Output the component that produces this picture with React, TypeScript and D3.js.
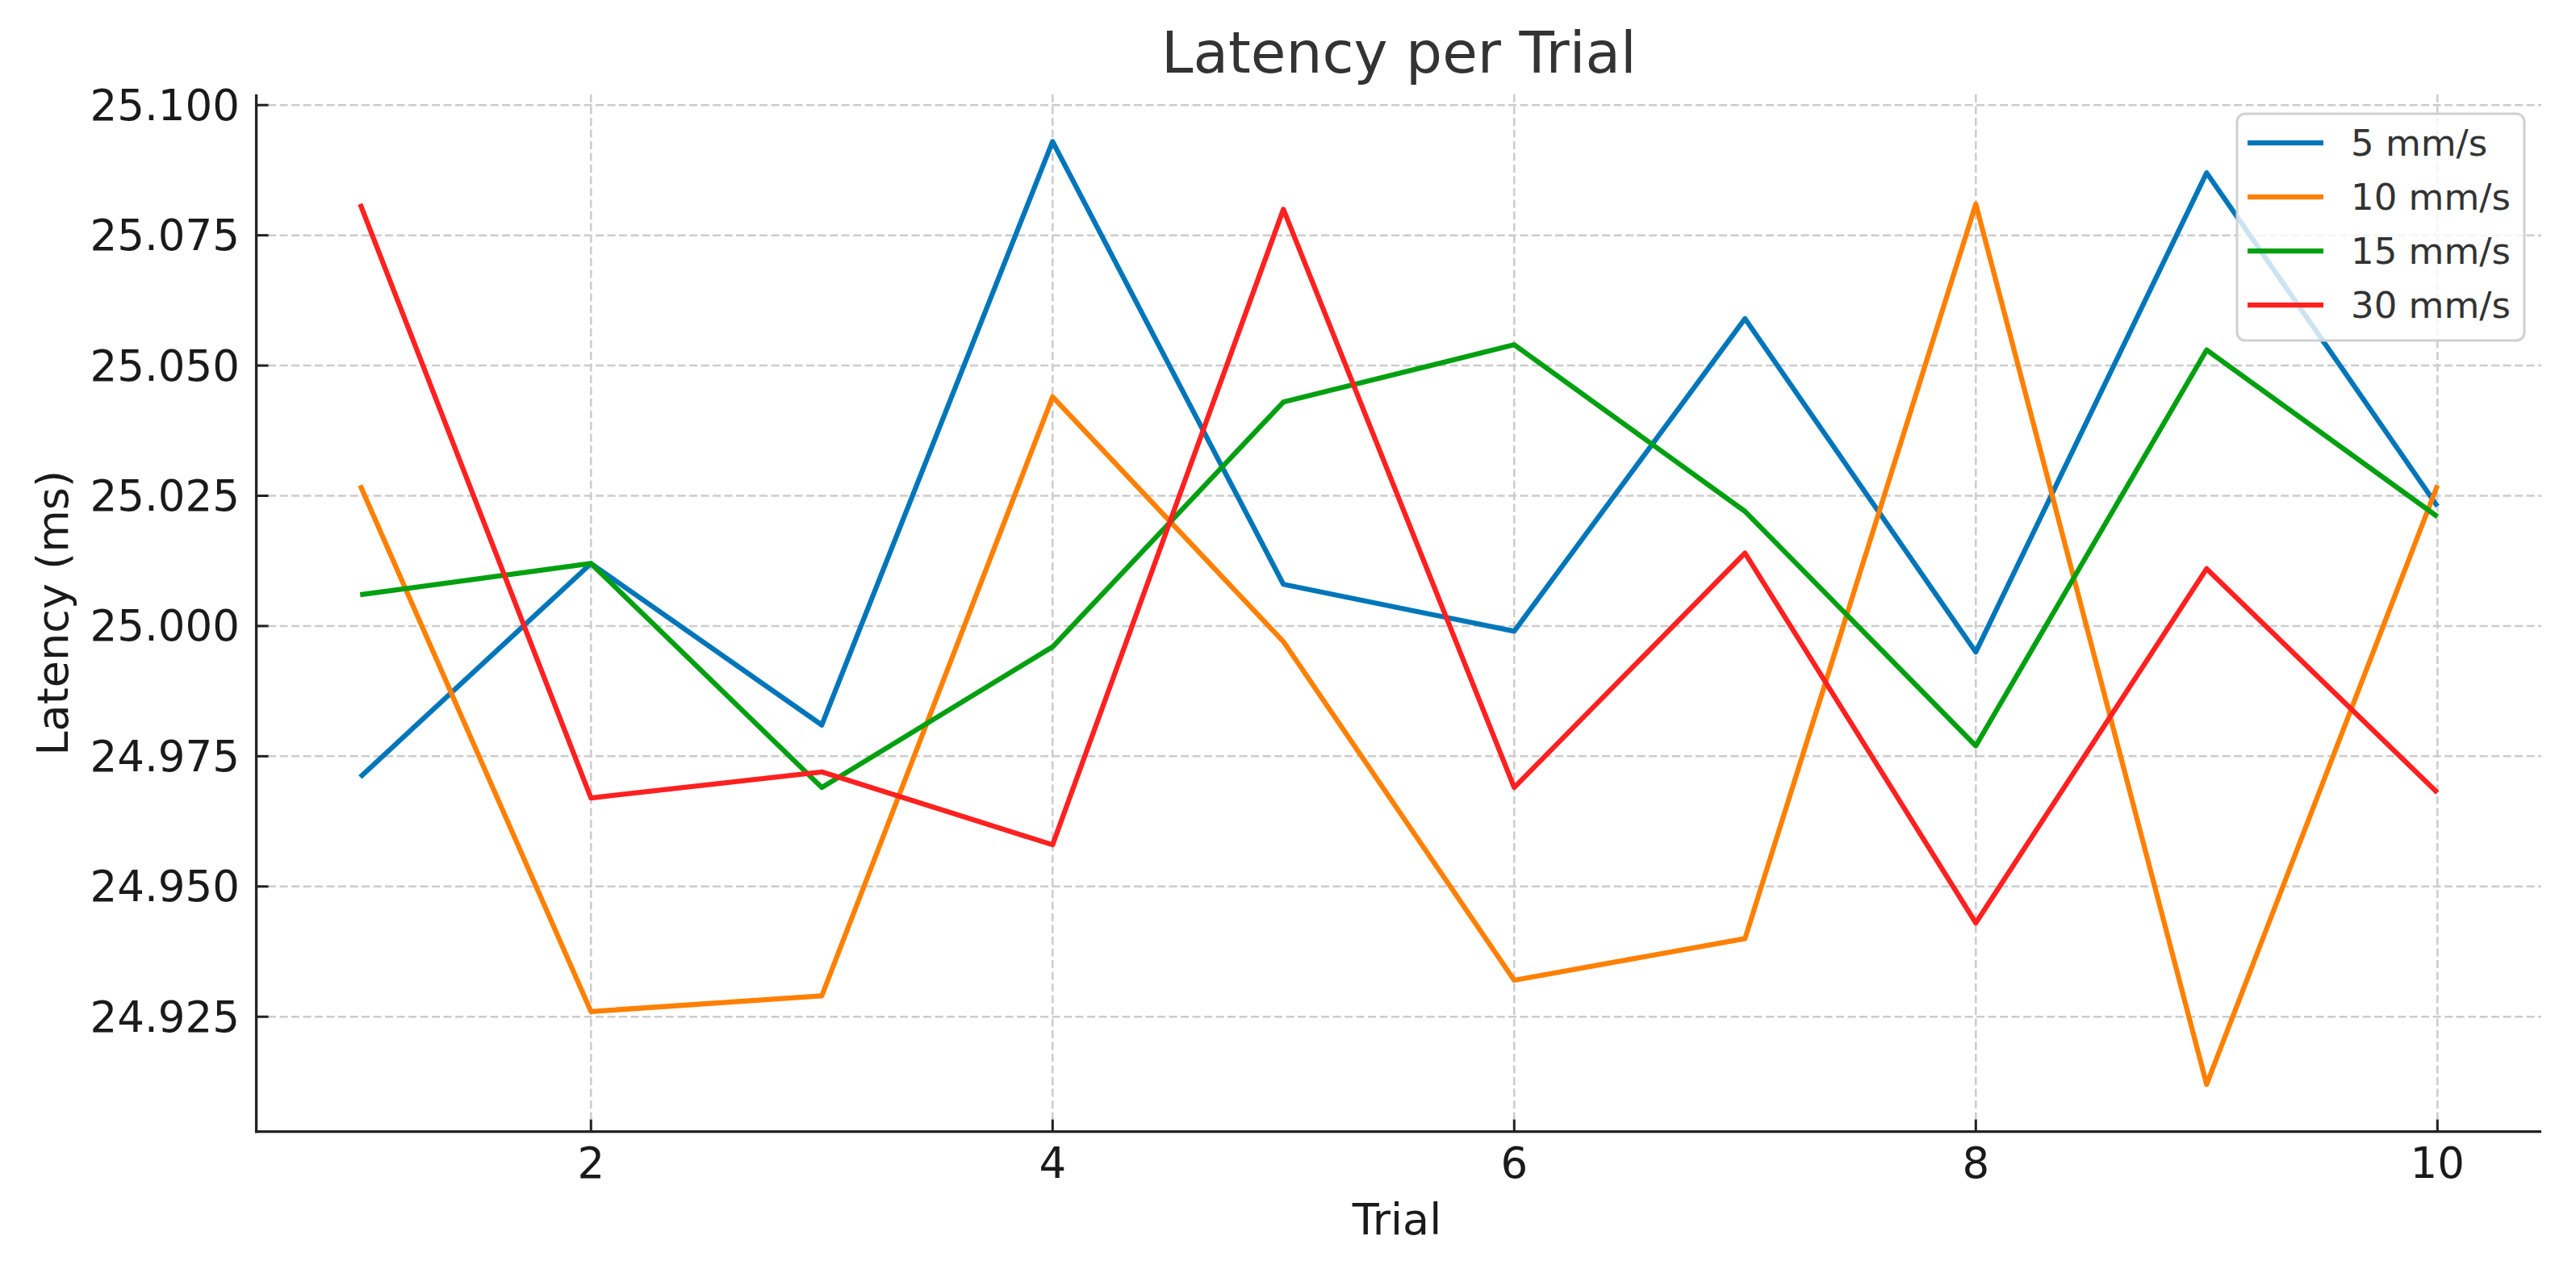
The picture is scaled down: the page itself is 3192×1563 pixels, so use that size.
import React from "react";
import * as d3 from "d3";

const trials = [1, 2, 3, 4, 5, 6, 7, 8, 9, 10];
const seriesNames = ["5 mm/s", "10 mm/s", "15 mm/s", "30 mm/s"];
const seriesColors = ["#0076BA", "#FF8000", "#00A010", "#FF2020"];
const v5 = [24.971, 25.012, 24.981, 25.093, 25.008, 24.999, 25.059, 24.995, 25.087, 25.023];
const v10 = [25.027, 24.926, 24.929, 25.044, 24.997, 24.932, 24.94, 25.081, 24.912, 25.027];
const v15 = [25.006, 25.012, 24.969, 24.996, 25.043, 25.054, 25.022, 24.977, 25.053, 25.021];
const v30 = [25.081, 24.967, 24.972, 24.958, 25.08, 24.969, 25.014, 24.943, 25.011, 24.968];
const yTicks = [24.925, 24.95, 24.975, 25.0, 25.025, 25.05, 25.075, 25.1];
const xTicks = [2, 4, 6, 8, 10];

const W = 3192;
const H = 1563;
const left = 317.6;
const right = 3149;
const top = 117;
const bottom = 1402.6;
const FONT = "'DejaVu Sans', sans-serif";

export default function App() {
  const allSeries = [v5, v10, v15, v30];
  const all = allSeries.flat();
  const yMin = d3.min(all) as number;
  const yMax = d3.max(all) as number;
  const ym = (yMax - yMin) * 0.05;
  const xMin = d3.min(trials) as number;
  const xMax = d3.max(trials) as number;
  const xm = (xMax - xMin) * 0.05;

  const x = d3.scaleLinear().domain([xMin - xm, xMax + xm]).range([left, right]);
  const y = d3.scaleLinear().domain([yMin - ym, yMax + ym]).range([bottom, top]);

  const line = d3
    .line<number>()
    .x((_, i) => x(trials[i]))
    .y((d) => y(d));

  const legX = 2772;
  const legY = 141;
  const legW = 356;
  const legH = 281;
  const rowY0 = 177;
  const rowDy = 67;

  return (
    <svg
      width={W}
      height={H}
      style={{ position: "absolute", left: 0, top: 0, background: "#fff" }}
      fontFamily={FONT}
    >
      <rect x={0} y={0} width={W} height={H} fill="#fff" />
      {/* grid */}
      {xTicks.map((t) => (
        <line
          key={"gx" + t}
          x1={x(t)}
          x2={x(t)}
          y1={top}
          y2={bottom}
          stroke="#cccccc"
          strokeWidth={2.5}
          strokeDasharray="10,4.5"
        />
      ))}
      {yTicks.map((t) => (
        <line
          key={"gy" + t}
          x1={left}
          x2={right}
          y1={y(t)}
          y2={y(t)}
          stroke="#cccccc"
          strokeWidth={2.5}
          strokeDasharray="10,4.5"
        />
      ))}
      {/* series */}
      {allSeries.map((s, i) => (
        <path
          key={"s" + i}
          d={line(s) as string}
          fill="none"
          stroke={seriesColors[i]}
          strokeWidth={6.25}
          strokeLinejoin="round"
          strokeLinecap="butt"
        />
      ))}
      {/* spines */}
      <line x1={left} x2={left} y1={top} y2={bottom + 1.6} stroke="#222" strokeWidth={3.3} />
      <line x1={left - 1.6} x2={right} y1={bottom} y2={bottom} stroke="#222" strokeWidth={3.3} />
      {/* y ticks */}
      {yTicks.map((t) => (
        <g key={"yt" + t}>
          <line x1={left} x2={left + 15} y1={y(t)} y2={y(t)} stroke="#222" strokeWidth={3} />
          <text
            x={297}
            y={y(t)}
            textAnchor="end"
            dominantBaseline="central"
            fontSize={53}
            fill="#1a1a1a"
          >
            {d3.format(".3f")(t)}
          </text>
        </g>
      ))}
      {/* x ticks */}
      {xTicks.map((t) => (
        <g key={"xt" + t}>
          <line x1={x(t)} x2={x(t)} y1={bottom} y2={bottom - 15} stroke="#222" strokeWidth={3} />
          <text x={x(t)} y={1460} textAnchor="middle" fontSize={53} fill="#1a1a1a">
            {t}
          </text>
        </g>
      ))}
      {/* labels */}
      <text x={1731} y={1530} textAnchor="middle" fontSize={54} fill="#1a1a1a">
        Trial
      </text>
      <text
        transform={`translate(84, ${(top + bottom) / 2}) rotate(-90)`}
        textAnchor="middle"
        fontSize={54}
        fill="#1a1a1a"
      >
        Latency (ms)
      </text>
      <text x={(left + right) / 2} y={90} textAnchor="middle" fontSize={71} fill="#333">
        Latency per Trial
      </text>
      {/* legend */}
      <rect
        x={legX}
        y={legY}
        width={legW}
        height={legH}
        rx={10}
        ry={10}
        fill="#fff"
        fillOpacity={0.8}
        stroke="#d0d0d0"
        strokeWidth={3}
      />
      {seriesNames.map((n, i) => (
        <g key={"lg" + i}>
          <line
            x1={2785}
            x2={2879}
            y1={rowY0 + i * rowDy}
            y2={rowY0 + i * rowDy}
            stroke={seriesColors[i]}
            strokeWidth={6.25}
          />
          <text
            x={2913}
            y={rowY0 + i * rowDy}
            dominantBaseline="central"
            fontSize={45}
            fill="#333"
          >
            {n}
          </text>
        </g>
      ))}
    </svg>
  );
}
